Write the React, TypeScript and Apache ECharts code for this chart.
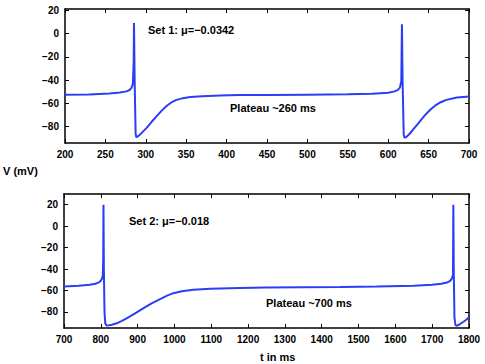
import React, { useEffect, useRef } from "react";
import * as echarts from "echarts";

const set1Time = [200, 230, 255, 268, 276, 280, 282.5, 284, 285, 285.4, 286.2, 287.4, 288.3, 290, 294, 301, 307, 313.5, 320, 326, 332, 338, 346, 355, 370, 392, 416, 450, 500, 550, 580, 600, 608, 612, 614.5, 616.2, 617, 617.8, 619.2, 620.3, 622, 626, 632, 638, 645, 652, 658, 665, 672, 685, 700];
const set1V = [-52.6, -52.3, -51.6, -50.7, -49.7, -48.5, -46.5, -43, -25, 9, -40, -86, -89, -88.5, -86, -81, -76, -71, -66, -62, -59, -57, -55.5, -54.6, -53.8, -53.2, -52.9, -52.7, -52.5, -52.2, -51.7, -50.8, -49.7, -48.4, -46.5, -41, 8, -40, -87, -89.5, -89, -86.5, -81.5, -76.5, -70.5, -65.5, -62, -59, -57, -55, -54];

const set2Time = [700, 740, 770, 785, 795, 800, 803, 805.5, 806.6, 807.2, 808.3, 810, 812, 815, 818, 830, 843, 856, 870, 892, 915, 938, 961, 980, 997, 1020, 1051, 1097, 1178, 1250, 1350, 1450, 1550, 1650, 1700, 1725, 1740, 1749, 1754, 1756.5, 1757.5, 1758.6, 1760.5, 1763, 1766, 1775, 1790, 1800];
const set2V = [-56.3, -55.6, -54.7, -53.7, -52.4, -51, -49, -46, -30, 20, -40, -80, -90.5, -92.5, -92.8, -92, -90.6, -88.5, -86, -81.5, -76.6, -72, -68, -64.8, -62.5, -60.8, -59.4, -58.5, -57.6, -57.3, -57, -56.7, -56.2, -55.5, -54.7, -53.8, -52.6, -51, -48.5, -45, 20, -40, -85, -92, -93, -91.5, -88, -85];

const yTicks = [-80, -60, -40, -20, 0, 20];
const x1Ticks = [200, 250, 300, 350, 400, 450, 500, 550, 600, 650, 700];
const x2Ticks = [700, 800, 900, 1000, 1100, 1200, 1300, 1400, 1500, 1600, 1700, 1800];

const FONT = "Liberation Sans";
const LINE = "#2b3df5";

const fmt = (v: number) => String(v).replace("-", "\u2212");

export default function App() {
  const ref = useRef<HTMLDivElement>(null);
  useEffect(() => {
    const chart = echarts.init(ref.current!, null, { renderer: "svg" });
    const labelStyle = { fontFamily: FONT, fontWeight: "bold" as const, fontSize: 10, color: "#000" };
    const axisLine = { show: true, onZero: false, lineStyle: { color: "#000", width: 1.5 } };
    const tick = { inside: true, length: 4, lineStyle: { color: "#000", width: 1 } };
    const mkX = (grid: number, min: number, max: number, ticks: number[], pos: string, labels: boolean) => ({
      type: "value", gridIndex: grid, min, max, position: pos,
      axisLine, splitLine: { show: false },
      axisTick: { ...tick, customValues: ticks },
      axisLabel: labels ? { ...labelStyle, margin: 6, customValues: ticks, formatter: fmt } : { show: false },
    });
    const mkY = (grid: number, min: number, max: number, pos: string, labels: boolean) => ({
      type: "value", gridIndex: grid, min, max, position: pos,
      axisLine, splitLine: { show: false },
      axisTick: { ...tick, customValues: yTicks },
      axisLabel: labels ? { ...labelStyle, margin: 6, customValues: yTicks, formatter: fmt } : { show: false },
    });
    const ann = `bold 11px "${FONT}"`;
    chart.setOption({
      animation: false,
      backgroundColor: "#fff",
      grid: [
        { left: 65, right: 16, top: 9, height: 134 },
        { left: 64, right: 16, top: 194, height: 134 },
      ],
      xAxis: [
        mkX(0, 200, 700, x1Ticks, "bottom", true),
        mkX(0, 200, 700, x1Ticks, "top", false),
        mkX(1, 700, 1800, x2Ticks, "bottom", true),
        mkX(1, 700, 1800, x2Ticks, "top", false),
      ],
      yAxis: [
        mkY(0, -94, 21, "left", true),
        mkY(0, -94, 21, "right", false),
        mkY(1, -95, 30, "left", true),
        mkY(1, -95, 30, "right", false),
      ],
      series: [
        {
          type: "line", xAxisIndex: 0, yAxisIndex: 0, showSymbol: false,
          data: set1Time.map((t, i) => [t, set1V[i]]),
          lineStyle: { color: LINE, width: 2 }, itemStyle: { color: LINE },
        },
        {
          type: "line", xAxisIndex: 2, yAxisIndex: 2, showSymbol: false,
          data: set2Time.map((t, i) => [t, set2V[i]]),
          lineStyle: { color: LINE, width: 2 }, itemStyle: { color: LINE },
        },
      ],
      graphic: [
        { type: "text", left: 148, top: 24, style: { text: "Set 1: \u03bc=\u22120.0342", font: ann, fill: "#000" } },
        { type: "text", left: 230, top: 102, style: { text: "Plateau ~260 ms", font: ann, fill: "#000" } },
        { type: "text", left: 129, top: 215, style: { text: "Set 2: \u03bc=\u22120.018", font: ann, fill: "#000" } },
        { type: "text", left: 266, top: 297, style: { text: "Plateau ~700 ms", font: ann, fill: "#000" } },
        { type: "text", left: 3, top: 165, style: { text: "V (mV)", font: ann, fill: "#000" } },
        { type: "text", left: 260, top: 351, style: { text: "t in ms", font: ann, fill: "#000" } },
      ],
    });
    return () => chart.dispose();
  }, []);
  return <div ref={ref} style={{ width: 485, height: 364, position: "absolute", left: 0, top: 0 }} />;
}
